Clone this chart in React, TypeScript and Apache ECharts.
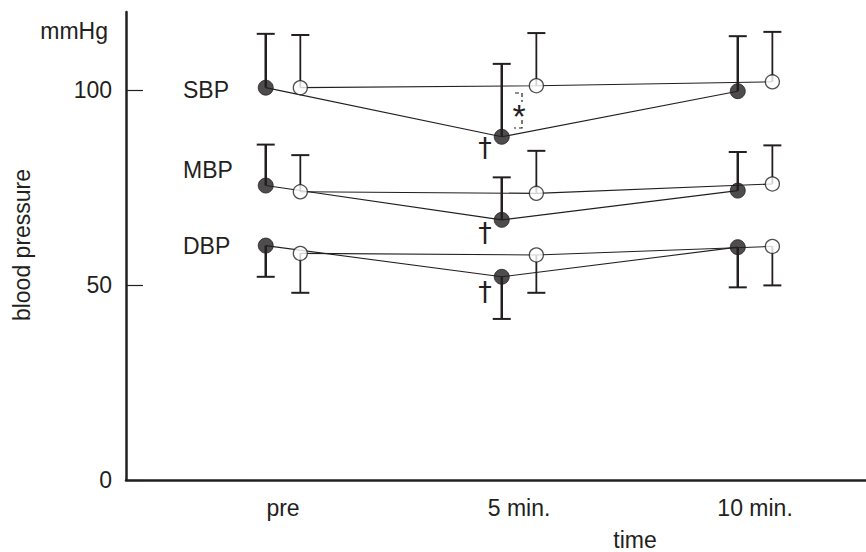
import React, { useEffect, useRef } from "react";
import * as echarts from "echarts";

const categories = ["pre", "5 min.", "10 min."];
const yTickValues = [0, 50, 100];

// filled circles (group 1) and open circles (group 2)
const sbpFilled = [100.6, 88.0, 99.7];
const sbpFilledBar = [114.4, 106.7, 113.8];
const sbpOpen = [100.6, 101.1, 102.1];
const sbpOpenBar = [114.1, 114.6, 114.9];

const mbpFilled = [75.5, 66.7, 74.2];
const mbpFilledBar = [86.0, 77.6, 84.1];
const mbpOpen = [73.9, 73.5, 75.9];
const mbpOpenBar = [83.3, 84.4, 85.8];

const dbpFilled = [60.1, 52.1, 59.7];
const dbpFilledBar = [52.1, 41.3, 49.4];
const dbpOpen = [58.1, 57.7, 59.9];
const dbpOpenBar = [48.0, 48.0, 49.9];

const seriesLabels = ["SBP", "MBP", "DBP"];

const INK = "#231f20";
const FONT = "'Liberation Sans', Arial, Helvetica, sans-serif";
const OFF = 0.0733;

function pts(vals: number[], off: number) {
  return vals.map((v, i) => [i + 1 + off, v]);
}
function bars(vals: number[], ends: number[], off: number) {
  return vals.map((v, i) => [i + 1 + off, v, ends[i]]);
}

export default function App() {
  const ref = useRef<HTMLDivElement>(null);
  useEffect(() => {
    if (!ref.current) return;
    const chart = echarts.init(ref.current, null, { renderer: "svg" });

    const groups = [
      { f: sbpFilled, fb: sbpFilledBar, o: sbpOpen, ob: sbpOpenBar },
      { f: mbpFilled, fb: mbpFilledBar, o: mbpOpen, ob: mbpOpenBar },
      { f: dbpFilled, fb: dbpFilledBar, o: dbpOpen, ob: dbpOpenBar },
    ];

    const errRender = (lw: number) => (params: any, api: any) => {
      const x = api.value(0);
      const p0 = api.coord([x, api.value(1)]);
      const p1 = api.coord([x, api.value(2)]);
      return {
        type: "group",
        children: [
          {
            type: "line",
            shape: { x1: p0[0], y1: p0[1], x2: p1[0], y2: p1[1] },
            style: { stroke: INK, lineWidth: lw },
          },
          {
            type: "line",
            shape: { x1: p1[0] - 9, y1: p1[1], x2: p1[0] + 9, y2: p1[1] },
            style: { stroke: INK, lineWidth: 2 },
          },
        ],
      };
    };

    const series: any[] = [];
    groups.forEach((g) => {
      series.push({
        type: "line",
        data: pts(g.f, -OFF),
        symbol: "none",
        lineStyle: { color: INK, width: 1.1 },
        z: 1,
        silent: true,
      });
      series.push({
        type: "line",
        data: pts(g.o, OFF),
        symbol: "none",
        lineStyle: { color: INK, width: 1.1 },
        z: 1,
        silent: true,
      });
      series.push({
        type: "custom",
        data: bars(g.f, g.fb, -OFF),
        renderItem: errRender(2.5),
        encode: { x: 0, y: [1, 2] },
        z: 2,
        silent: true,
      });
      series.push({
        type: "custom",
        data: bars(g.o, g.ob, OFF),
        renderItem: errRender(1.8),
        encode: { x: 0, y: [1, 2] },
        z: 2,
        silent: true,
      });
      series.push({
        type: "scatter",
        data: pts(g.f, -OFF),
        symbol: "circle",
        symbolSize: 15,
        itemStyle: { color: INK, borderColor: INK, borderWidth: 1 },
        z: 3,
        silent: true,
      });
      series.push({
        type: "scatter",
        data: pts(g.o, OFF),
        symbol: "circle",
        symbolSize: 14,
        itemStyle: { color: "#ffffff", borderColor: INK, borderWidth: 1.3 },
        z: 3,
        silent: true,
      });
    });

    const textStyle = (text: string, extra: any = {}) => ({
      text,
      fill: INK,
      font: `23px ${FONT}`,
      ...extra,
    });

    const labelY = [90, 170, 246];

    const graphic: any[] = [
      {
        type: "text",
        x: 108,
        y: 31,
        style: textStyle("mmHg", { textAlign: "right", textVerticalAlign: "middle" }),
      },
      {
        type: "text",
        x: 22,
        y: 245,
        rotation: Math.PI / 2,
        style: textStyle("blood pressure", { textAlign: "center", textVerticalAlign: "middle" }),
      },
      {
        type: "text",
        x: 635,
        y: 540,
        style: textStyle("time", { textAlign: "center", textVerticalAlign: "middle" }),
      },
      ...seriesLabels.map((s, i) => ({
        type: "text",
        x: 183,
        y: labelY[i],
        style: textStyle(s, { textAlign: "left", textVerticalAlign: "middle" }),
      })),
      ...[147, 232, 291].map((y) => ({
        type: "text",
        x: 485,
        y,
        style: {
          text: "\u2020",
          fill: INK,
          font: `27px 'DejaVu Sans', sans-serif`,
          textAlign: "center",
          textVerticalAlign: "middle",
        },
      })),
      {
        type: "text",
        x: 519,
        y: 116,
        style: {
          text: "*",
          fill: INK,
          font: `34px ${FONT}`,
          textAlign: "center",
          textVerticalAlign: "middle",
        },
      },
      {
        type: "polyline",
        shape: { points: [[515, 93], [522, 93], [522, 102]] },
        style: { stroke: INK, lineWidth: 1.2, fill: null, lineDash: [4, 3] },
      },
      {
        type: "polyline",
        shape: { points: [[522, 120], [522, 128], [514, 128]] },
        style: { stroke: INK, lineWidth: 1.2, fill: null, lineDash: [4, 3] },
      },
    ];

    chart.setOption({
      animation: false,
      grid: { left: 126, right: 0, top: 12, bottom: 72, containLabel: false },
      xAxis: {
        type: "value",
        min: 0.3347,
        max: 3.47,
        axisLine: { show: true, onZero: false, lineStyle: { color: INK, width: 2.5 } },
        axisTick: { show: false },
        splitLine: { show: false },
        axisLabel: {
          customValues: [1, 2, 3],
          formatter: (v: number) => categories[Math.round(v) - 1] ?? "",
          color: INK,
          fontSize: 23,
          fontFamily: FONT,
          margin: 16,
        },
      },
      yAxis: {
        type: "value",
        min: 0,
        max: 120,
        axisLine: { show: true, lineStyle: { color: INK, width: 2.5 } },
        axisTick: {
          show: true,
          inside: true,
          length: 17,
          customValues: yTickValues,
          lineStyle: { color: INK, width: 1.2 },
        },
        splitLine: { show: false },
        axisLabel: {
          customValues: yTickValues,
          color: INK,
          fontSize: 23,
          fontFamily: FONT,
          margin: 14,
        },
      },
      series,
      graphic,
    });

    return () => chart.dispose();
  }, []);

  return (
    <div
      ref={ref}
      style={{ position: "fixed", left: 0, top: 0, width: 866, height: 552, background: "#fff" }}
    />
  );
}
